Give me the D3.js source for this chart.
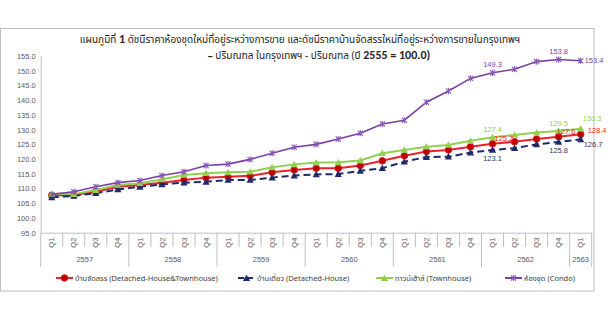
<!DOCTYPE html>
<html><head><meta charset="utf-8">
<script src="https://cdn.jsdelivr.net/npm/d3@7"></script>
<style>
html,body{margin:0;padding:0;background:#fff;}
svg{display:block;}
text{font-family:"Liberation Sans",Arial,sans-serif;}
.th{font-family:Tahoma,"Noto Sans Thai","Noto Sans","DejaVu Sans",sans-serif;}
</style></head>
<body>
<svg id="c" width="610" height="336"></svg>
<script>
const years = ["2557","2558","2559","2560","2561","2562","2563"];
const quarters = ["Q1","Q2","Q3","Q4","Q1","Q2","Q3","Q4","Q1","Q2","Q3","Q4","Q1","Q2","Q3","Q4","Q1","Q2","Q3","Q4","Q1","Q2","Q3","Q4","Q1"];
const yearOf = [0,0,0,0,1,1,1,1,2,2,2,2,3,3,3,3,4,4,4,4,5,5,5,5,6];
const yTicks = [95,100,105,110,115,120,125,130,135,140,145,150,155];

const detached_townhouse = [107.6,107.8,108.9,110.6,111.2,112.0,112.9,113.7,114.0,114.3,115.5,116.3,116.9,116.9,117.8,119.4,121.1,122.6,123.1,124.2,125.2,125.9,126.8,127.6,128.4];
const detached_house     = [107.0,107.5,108.4,109.7,110.6,111.4,112.0,112.3,112.9,112.9,113.7,114.4,114.8,114.9,116.0,116.9,119.1,120.7,120.8,122.2,123.1,123.7,125.0,125.8,126.7];
const townhouse          = [108.2,108.1,109.5,111.2,111.8,113.1,114.6,115.2,115.5,115.7,117.2,118.2,118.8,118.9,119.5,122.0,123.1,124.2,124.8,126.2,127.4,128.2,129.0,129.5,130.3];
const condo              = [108.0,108.9,110.6,112.0,112.7,114.4,115.7,117.8,118.3,119.9,122.0,124.0,125.0,126.8,128.8,131.9,133.2,139.3,143.1,147.4,149.3,150.5,153.1,153.8,153.4];

const seriesNames = ["บ้านจัดสรร (Detached-House&Townhouse)","บ้านเดี่ยว (Detached-House)","ทาวน์เฮ้าส์ (Townhouse)","ห้องชุด (Condo)"];
// labelled points: [index, dx, dy, anchor]
const labelIdx = {
  red:[[20,2,-5,"start"],[23,-2,-5,"start"],[24,7,-4,"start"]],
  blue:[[20,0,8,"middle"],[23,0,8,"middle"],[24,3,5,"start"]],
  green:[[20,0,-8,"middle"],[23,0,-8,"middle"],[24,2,-10,"start"]],
  purple:[[20,0,-8,"middle"],[23,0,-8,"middle"],[24,4,0,"start"]]
};

const svg = d3.select("#c");
const L = 40.7, R = 591.7, T = 56, B = 232.7;
const idx = d3.range(quarters.length);
const x = d3.scaleBand().domain(idx).range([L, R]).padding(0);
const y = d3.scaleLinear().domain([95,155]).range([B, T]);
const cx = i => x(i) + x.bandwidth()/2;

// frame
svg.append("rect").attr("x",0.5).attr("y",28.5).attr("width",593.5).attr("height",262.5)
  .attr("fill","none").attr("stroke","#bfbfbf").attr("stroke-width",1);

// title
const t1 = svg.append("text").attr("class","th").attr("x",300).attr("y",42.5)
  .attr("text-anchor","middle").attr("font-size",10).attr("fill","#222");
t1.append("tspan").text("แผนภูมิที่ ");
t1.append("tspan").attr("font-weight","bold").attr("font-family","Calibri,Carlito,'Liberation Sans',sans-serif").attr("font-size",12).text("1");
t1.append("tspan").text(" ดัชนีราคาห้องชุดใหม่ที่อยู่ระหว่างการขาย และดัชนีราคาบ้านจัดสรรใหม่ที่อยู่ระหว่างการขายในกรุงเทพฯ");
const t2 = svg.append("text").attr("class","th").attr("x",319).attr("y",58.5)
  .attr("text-anchor","middle").attr("font-size",10).attr("fill","#222");
t2.append("tspan").attr("font-weight","bold").text("– ");
t2.append("tspan").text("ปริมณฑล ในกรุงเทพฯ - ปริมณฑล (ปี ");
t2.append("tspan").attr("font-weight","bold").attr("font-family","Calibri,Carlito,'Liberation Sans',sans-serif").attr("font-size",12).text("2555 = 100.0)");

// y axis
const yAxis = svg.append("g").attr("transform",`translate(${L},0)`)
  .call(d3.axisLeft(y).tickValues(yTicks).tickFormat(d3.format(".1f")).tickSize(0).tickPadding(5));
yAxis.select(".domain").attr("stroke","#bfbfbf");
yAxis.selectAll("text").attr("font-size",7.5).attr("fill","#595959");

// x axis (quarters)
const xAxis = svg.append("g").attr("transform",`translate(0,${B})`)
  .call(d3.axisBottom(x).tickFormat(i => quarters[i]).tickSize(0));
xAxis.select(".domain").attr("stroke","#bfbfbf");
xAxis.selectAll("text").attr("font-size",7.5).attr("fill","#595959")
  .attr("transform","rotate(-90)").attr("text-anchor","middle").attr("dy","0.35em")
  .attr("x", -10).attr("y",0);

// separators
const sep = svg.append("g").attr("stroke","#bfbfbf").attr("stroke-width",1);
idx.concat([quarters.length]).forEach(i => {
  const xx = i < quarters.length ? x(i) : R;
  const isYear = i === 0 || i === quarters.length || yearOf[i] !== yearOf[i-1];
  sep.append("line").attr("x1",xx).attr("x2",xx).attr("y1",B).attr("y2", isYear ? 267 : 247);
});
// year labels
years.forEach((yr,k) => {
  const members = idx.filter(i => yearOf[i] === k);
  const x0 = x(members[0]), x1 = x(members[members.length-1]) + x.bandwidth();
  svg.append("text").attr("x",(x0+x1)/2).attr("y",259).attr("dy","0.35em")
    .attr("text-anchor","middle").attr("font-size",7.5).attr("fill","#595959").text(yr);
});

const colors = {red:"#e8242a", blue:"#1f2a6b", green:"#92d050", purple:"#7b3fa8"};
const markerRed = "#c00000";
const line = d3.line().x((d,i)=>cx(i)).y(d=>y(d));

function drawMarker(g, key, px, py){
  if(key==="red"){
    g.append("circle").attr("cx",px).attr("cy",py).attr("r",3.3).attr("fill",markerRed).attr("stroke","#d42020");
  } else if(key==="blue" || key==="green"){
    const c = key==="blue" ? "#1f2a6b" : "#92d050";
    const s = 3.6;
    g.append("path").attr("d",`M${px},${py-s}L${px+s},${py+s*0.8}L${px-s},${py+s*0.8}Z`).attr("fill",c);
  } else {
    const s = 2.6, c = "#8a5cb8";
    g.append("path").attr("d",`M${px-s},${py-s}L${px+s},${py+s}M${px-s},${py+s}L${px+s},${py-s}M${px},${py-s-0.5}L${px},${py+s+0.5}`)
      .attr("stroke",c).attr("stroke-width",1.1).attr("fill","none");
  }
}

const series = [
  {key:"red", data:detached_townhouse, dash:null},
  {key:"blue", data:detached_house, dash:"7,4"},
  {key:"green", data:townhouse, dash:null},
  {key:"purple", data:condo, dash:null}
];
series.forEach(s => {
  const g = svg.append("g");
  g.append("path").datum(s.data).attr("d",line).attr("fill","none")
    .attr("stroke",colors[s.key]).attr("stroke-width", s.key==="purple"?1.6:2)
    .attr("stroke-dasharray", s.dash);
  s.data.forEach((v,i)=>drawMarker(g, s.key, cx(i), y(v)));
});

// data labels
const labelColors = {red:"#ff2020", blue:"#1f3864", green:"#92d050", purple:"#7b3fa8"};
series.forEach(s => {
  labelIdx[s.key].forEach(([i,dx,dy,anchor]) => {
    const v = s.data[i];
    svg.append("text").attr("x",cx(i)+dx).attr("y",y(v)+dy).attr("dy","0.35em").attr("text-anchor",anchor)
      .attr("font-size",7.5).attr("fill",labelColors[s.key]).text(d3.format(".1f")(v));
  });
});

// legend
const legend = [
  {key:"red", x1:56, name:seriesNames[0], dash:null},
  {key:"blue", x1:238, name:seriesNames[1], dash:"6,3"},
  {key:"green", x1:376, name:seriesNames[2], dash:null},
  {key:"purple", x1:505, name:seriesNames[3], dash:null}
];
const ly = 278;
legend.forEach(l => {
  const g = svg.append("g");
  g.append("line").attr("x1",l.x1).attr("x2",l.x1+17).attr("y1",ly).attr("y2",ly)
    .attr("stroke",colors[l.key]).attr("stroke-width",2).attr("stroke-dasharray",l.dash);
  drawMarker(g, l.key, l.x1+8.5, ly);
  g.append("text").attr("class","th").attr("x",l.x1+19).attr("y",ly).attr("dy","0.35em")
    .attr("font-size",7.5).attr("fill","#404040").text(l.name);
});
</script>
</body></html>
